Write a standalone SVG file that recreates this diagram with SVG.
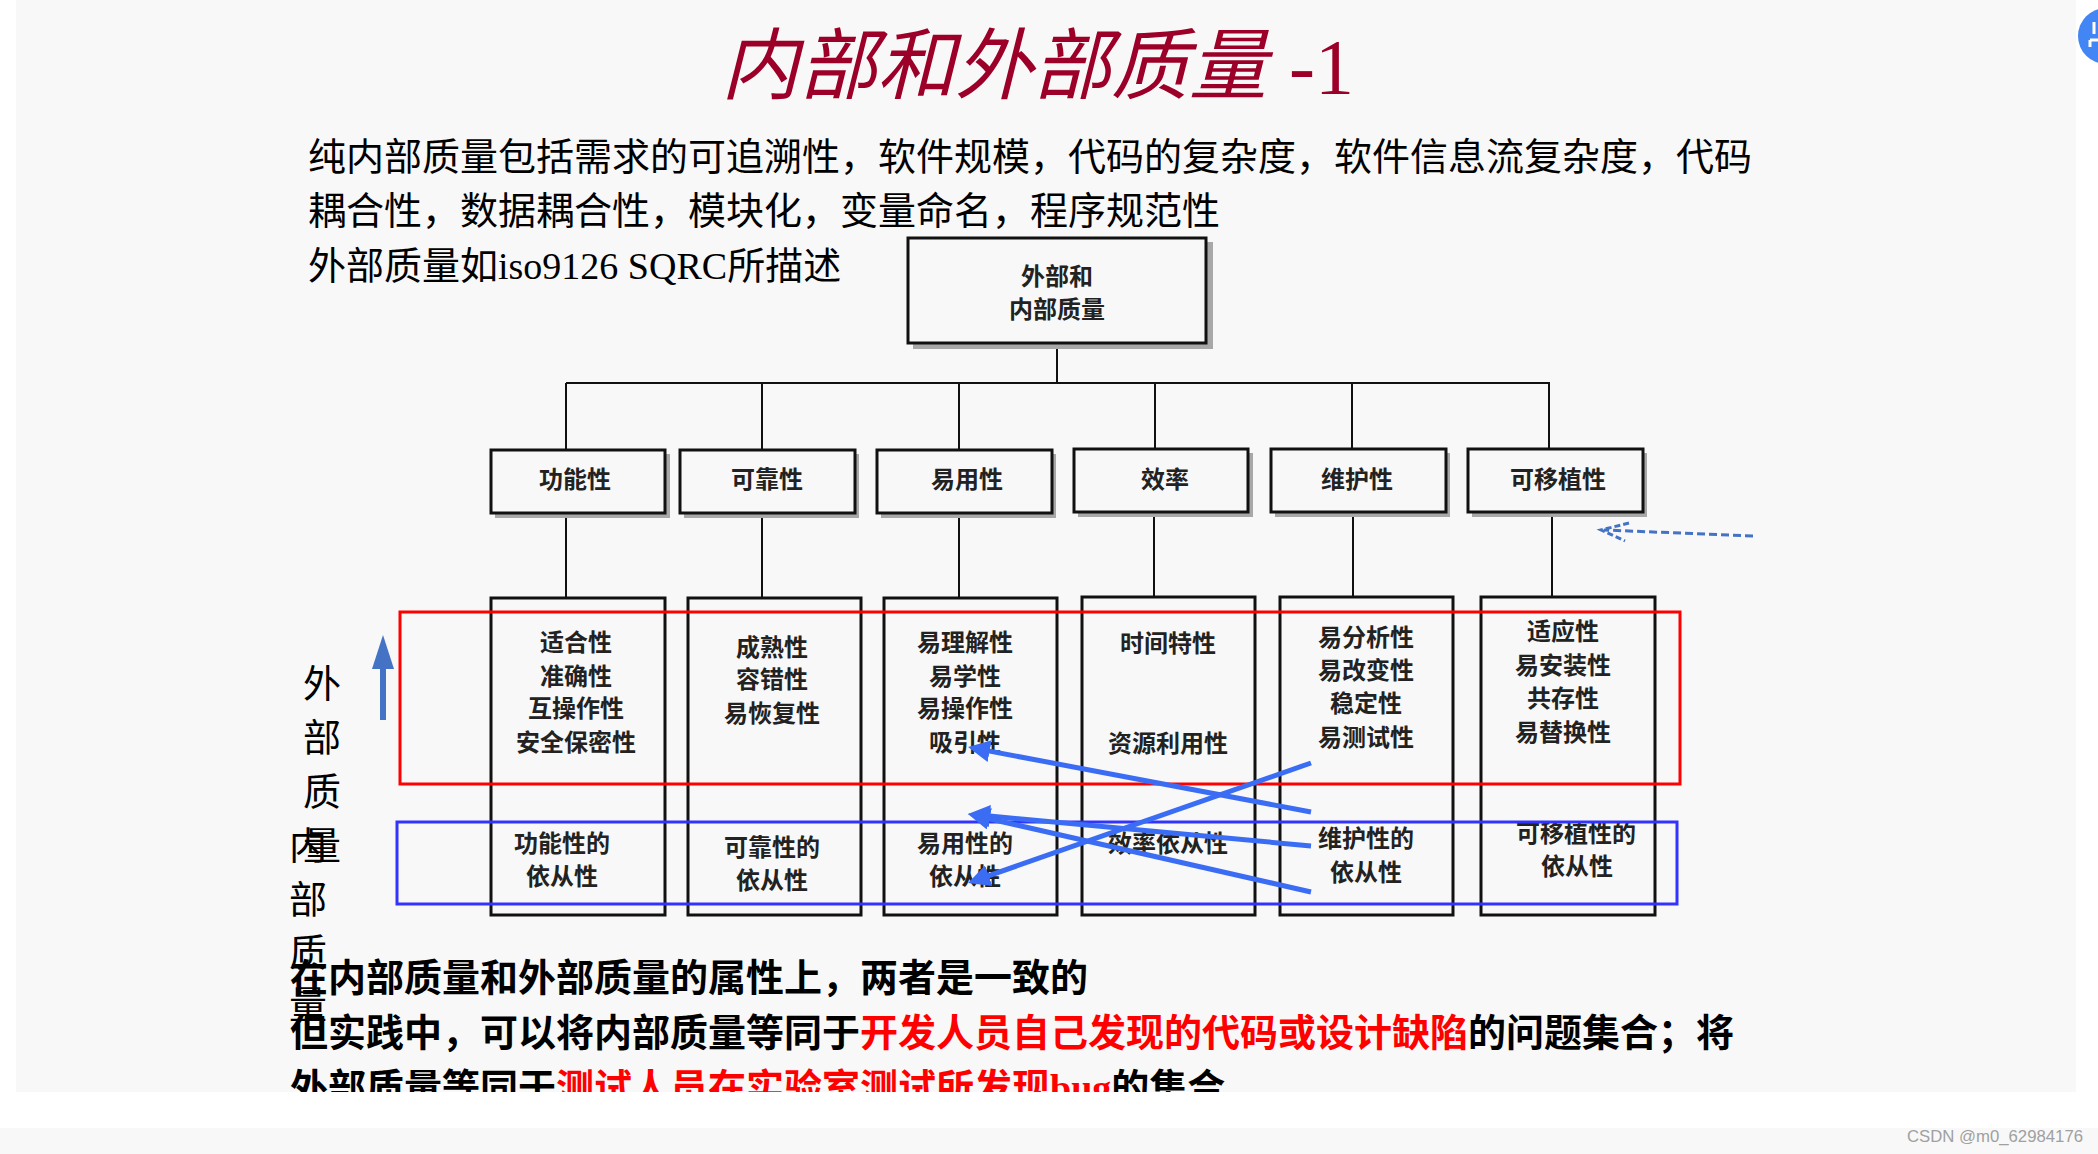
<svg xmlns="http://www.w3.org/2000/svg" width="2098" height="1154" viewBox="0 0 2098 1154">
<defs>
<style>
.cjk{font-family:'Noto Sans CJK SC','Noto Sans',sans-serif;}
.para{font-family:'Noto Sans CJK SC','Noto Sans',sans-serif;font-size:38px;fill:#000;}
.bold{font-family:'Noto Sans CJK SC','Noto Sans',sans-serif;font-size:38px;font-weight:700;fill:#000;}
.red{fill:#ff0000;}
.serif{font-family:'Liberation Serif',serif;}
.box{fill:#f8f8f8;stroke:#111;stroke-width:3;}
.shadow{fill:#a8a8a8;}
.lbl{font-family:'Noto Sans CJK SC','Noto Sans',sans-serif;font-size:24px;font-weight:700;fill:#222;text-anchor:middle;}
.conn{stroke:#111;stroke-width:2;fill:none;}
.barrow{stroke:#3b6cf4;stroke-width:5;fill:none;marker-end:url(#bh);}
.vert{font-family:'Noto Sans CJK SC','Noto Sans',sans-serif;font-size:38px;fill:#000;text-anchor:middle;}
</style>
<marker id="bh" markerUnits="userSpaceOnUse" viewBox="0 0 22 22" markerWidth="22" markerHeight="22" refX="8" refY="11" orient="auto">
<path d="M0,0 L22,11 L0,22 z" fill="#3b6cf4"/>
</marker>
</defs>

<!-- backgrounds -->
<rect x="0" y="0" width="2098" height="1154" fill="#ffffff"/>
<rect x="16" y="0" width="2060" height="1092" fill="#f8f8f8"/>
<rect x="0" y="1128" width="2098" height="26" fill="#f8f8f8"/>

<!-- title -->
<g id="title">
<text x="721" y="93" class="cjk" font-size="78" font-style="italic" fill="#9c0028">内部和外部质量</text>
<text x="1289" y="93" class="serif" font-size="78" fill="#9c0028">-1</text>
</g>

<!-- paragraph -->
<g id="intro">
<text x="308" y="170" class="para">纯内部质量包括需求的可追溯性，软件规模，代码的复杂度，软件信息流复杂度，代码</text>
<text x="308" y="224" class="para">耦合性，数据耦合性，模块化，变量命名，程序规范性</text>
<text x="308" y="279" class="para">外部质量如<tspan class="serif">iso9126 SQRC</tspan>所描述</text>
</g>

<!-- connectors -->
<g id="connectors">
<line class="conn" x1="1057" y1="343" x2="1057" y2="383"/>
<line class="conn" x1="566" y1="383" x2="1550" y2="383" stroke-width="3"/>
<line class="conn" x1="566" y1="383" x2="566" y2="450"/>
<line class="conn" x1="762" y1="383" x2="762" y2="450"/>
<line class="conn" x1="959" y1="383" x2="959" y2="450"/>
<line class="conn" x1="1155" y1="383" x2="1155" y2="450"/>
<line class="conn" x1="1352" y1="383" x2="1352" y2="450"/>
<line class="conn" x1="1549" y1="383" x2="1549" y2="450"/>
<line class="conn" x1="566" y1="513" x2="566" y2="597"/>
<line class="conn" x1="762" y1="513" x2="762" y2="597"/>
<line class="conn" x1="959" y1="513" x2="959" y2="597"/>
<line class="conn" x1="1154" y1="513" x2="1154" y2="597"/>
<line class="conn" x1="1353" y1="513" x2="1353" y2="597"/>
<line class="conn" x1="1552" y1="513" x2="1552" y2="597"/>
</g>

<!-- top node -->
<g id="node-root">
<rect class="shadow" x="913" y="242" width="300" height="107"/>
<rect class="box" x="908" y="238" width="298" height="105"/>
<text class="lbl" x="1057" y="285">外部和</text>
<text class="lbl" x="1057" y="318">内部质量</text>
</g>

<!-- level 2 -->
<g id="node-functionality">
<rect class="shadow" x="495" y="454" width="175" height="64"/>
<rect class="box" x="491" y="450" width="174" height="63"/>
<text class="lbl" x="575" y="488">功能性</text>
</g>
<g id="node-reliability">
<rect class="shadow" x="684" y="454" width="175" height="64"/>
<rect class="box" x="680" y="450" width="175" height="63"/>
<text class="lbl" x="767" y="488">可靠性</text>
</g>
<g id="node-usability">
<rect class="shadow" x="881" y="454" width="175" height="64"/>
<rect class="box" x="877" y="450" width="175" height="63"/>
<text class="lbl" x="967" y="488">易用性</text>
</g>
<g id="node-efficiency">
<rect class="shadow" x="1078" y="453" width="175" height="64"/>
<rect class="box" x="1074" y="449" width="174" height="63"/>
<text class="lbl" x="1165" y="488">效率</text>
</g>
<g id="node-maintainability">
<rect class="shadow" x="1275" y="453" width="175" height="64"/>
<rect class="box" x="1271" y="449" width="175" height="63"/>
<text class="lbl" x="1357" y="488">维护性</text>
</g>
<g id="node-portability">
<rect class="shadow" x="1472" y="453" width="175" height="64"/>
<rect class="box" x="1468" y="449" width="175" height="63"/>
<text class="lbl" x="1558" y="488">可移植性</text>
</g>

<!-- level 3 -->
<g id="node-func-sub">
<rect class="box" x="491" y="598" width="174" height="317"/>
<text class="lbl" x="576" y="651">适合性</text>
<text class="lbl" x="576" y="685">准确性</text>
<text class="lbl" x="576" y="717">互操作性</text>
<text class="lbl" x="576" y="751">安全保密性</text>
<text class="lbl" x="562" y="852">功能性的</text>
<text class="lbl" x="562" y="885">依从性</text>
</g>
<g id="node-rel-sub">
<rect class="box" x="688" y="598" width="173" height="317"/>
<text class="lbl" x="772" y="656">成熟性</text>
<text class="lbl" x="772" y="688">容错性</text>
<text class="lbl" x="772" y="722">易恢复性</text>
<text class="lbl" x="772" y="856">可靠性的</text>
<text class="lbl" x="772" y="889">依从性</text>
</g>
<g id="node-use-sub">
<rect class="box" x="884" y="598" width="173" height="317"/>
<text class="lbl" x="965" y="651">易理解性</text>
<text class="lbl" x="965" y="685">易学性</text>
<text class="lbl" x="965" y="717">易操作性</text>
<text class="lbl" x="965" y="751">吸引性</text>
<text class="lbl" x="965" y="852">易用性的</text>
<text class="lbl" x="965" y="885">依从性</text>
</g>
<g id="node-eff-sub">
<rect class="box" x="1082" y="597" width="173" height="318"/>
<text class="lbl" x="1168" y="652">时间特性</text>
<text class="lbl" x="1168" y="752">资源利用性</text>
<text class="lbl" x="1168" y="852">效率依从性</text>
</g>
<g id="node-maint-sub">
<rect class="box" x="1280" y="597" width="173" height="318"/>
<text class="lbl" x="1366" y="646">易分析性</text>
<text class="lbl" x="1366" y="679">易改变性</text>
<text class="lbl" x="1366" y="712">稳定性</text>
<text class="lbl" x="1366" y="746">易测试性</text>
<text class="lbl" x="1366" y="847">维护性的</text>
<text class="lbl" x="1366" y="881">依从性</text>
</g>
<g id="node-port-sub">
<rect class="box" x="1481" y="597" width="174" height="318"/>
<text class="lbl" x="1563" y="640">适应性</text>
<text class="lbl" x="1563" y="674">易安装性</text>
<text class="lbl" x="1563" y="707">共存性</text>
<text class="lbl" x="1563" y="741">易替换性</text>
<text class="lbl" x="1576" y="842">可移植性的</text>
<text class="lbl" x="1577" y="875">依从性</text>
</g>

<!-- annotation rectangles -->
<g id="annotations">
<rect x="400" y="612" width="1280" height="172" fill="none" stroke="#ff0000" stroke-width="3"/>
<rect x="397" y="822" width="1280" height="82" fill="none" stroke="#3333ff" stroke-width="3"/>
</g>

<!-- annotation arrows -->
<g id="arrows">
<path class="barrow" d="M1311,812 L981.8,749.6"/>
<path class="barrow" d="M1311,763 L981.2,878.4"/>
<path class="barrow" d="M1311,846 L981.9,815.3"/>
<path class="barrow" d="M1311,892 L981.6,817.1"/>
<path d="M1753,536 L1604,530" stroke="#4472c4" stroke-width="3" stroke-dasharray="8 4" fill="none"/>
<path d="M1629,523 L1601,530 L1625,541" stroke="#4472c4" stroke-width="3" stroke-dasharray="6 3" fill="none"/>
<rect x="380" y="667" width="6" height="53" fill="#4472c4"/>
<path d="M372,669 L383,635 L394,669 z" fill="#4472c4"/>
</g>

<!-- vertical labels -->
<g id="side-labels">
<text class="vert" x="322" y="697">外</text>
<text class="vert" x="322" y="751">部</text>
<text class="vert" x="322" y="805">质</text>
<text class="vert" x="322" y="859">量</text>
<text class="vert" x="308" y="859">内</text>
<text class="vert" x="308" y="913">部</text>
<text class="vert" x="308" y="966">质</text>
<text class="vert" x="308" y="1018">量</text>
</g>

<!-- bottom text -->
<g id="conclusion">
<text x="290" y="991" class="bold">在内部质量和外部质量的属性上，两者是一致的</text>
<text x="290" y="1046" class="bold">但实践中，可以将内部质量等同于<tspan class="red">开发人员自己发现的代码或设计缺陷</tspan>的问题集合；将</text>
<text x="290" y="1101" class="bold">外部质量等同于<tspan class="red">测试人员在实验室测试所发现<tspan class="serif">bug</tspan></tspan>的集合</text>
</g>

<!-- page chrome -->
<rect x="0" y="1092" width="2098" height="36" fill="#ffffff"/>
<circle cx="2106" cy="36" r="28" fill="#4285f4"/>
<path d="M2094,22 L2094,34 M2090,40 L2098,40 M2090,40 L2090,47" stroke="#ffffff" stroke-width="3" fill="none"/>
<text x="1907" y="1142" font-family="'Liberation Sans',sans-serif" font-size="17" fill="#a0a0a0" textLength="176" lengthAdjust="spacingAndGlyphs">CSDN @m0_62984176</text>
</svg>
